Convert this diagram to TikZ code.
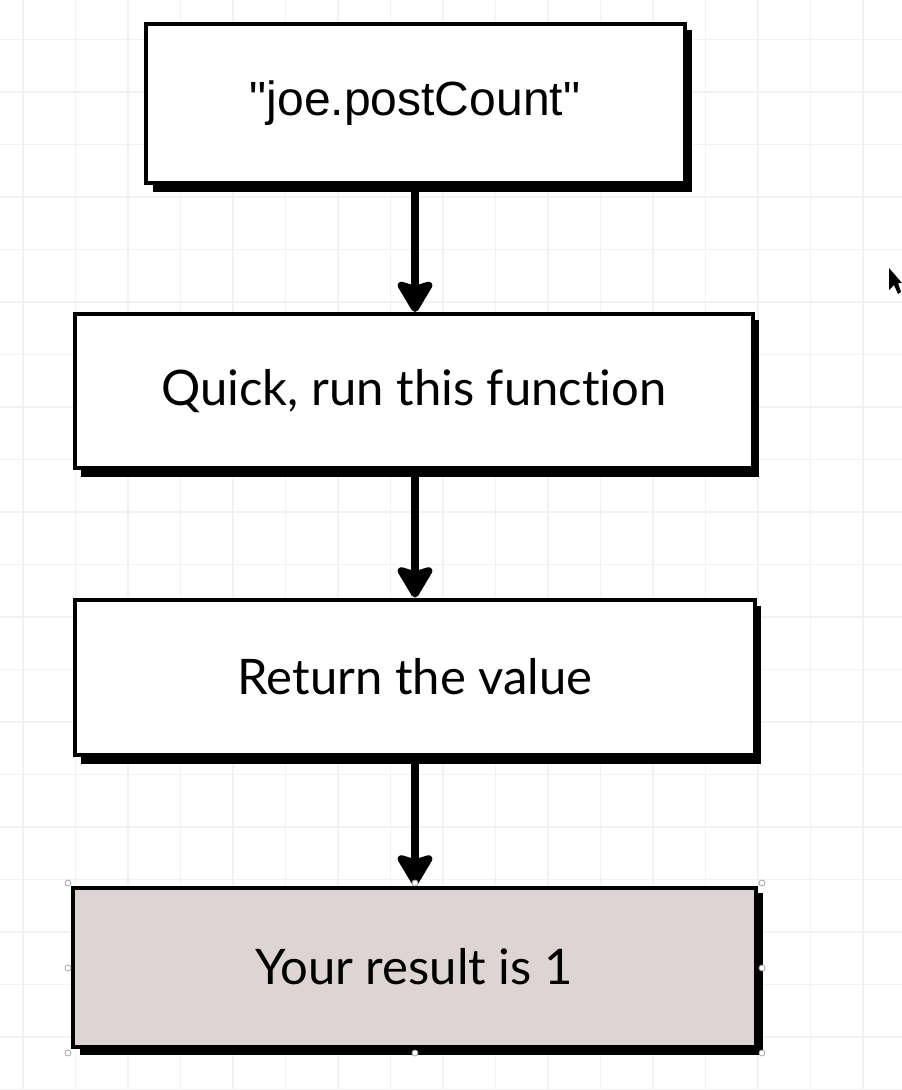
\documentclass[tikz,border=0pt]{standalone}
\usepackage{fontspec}
\setmainfont{Liberation Sans}
\newfontfamily\qfont{Liberation Sans}[Ligatures=TeXOff]
\newfontfamily\boxfont{Lato}[Ligatures=NoCommon]
\usetikzlibrary{arrows.meta}
\definecolor{gridc}{HTML}{F2F2F2}
\definecolor{resfill}{HTML}{DDD5D3}
\tikzset{
  box/.style={draw=black, line width=4pt, fill=white, minimum width=#1, inner sep=0pt, font=\boxfont\fontsize{49}{58}\selectfont},
  shad/.style={fill=black},
  conn/.style={line width=8pt, -{Stealth[length=36pt,width=42pt,inset=6pt,round]}},
  handle/.style={circle, draw=gray!70, fill=white, line width=0.8pt, inner sep=0pt, minimum size=6pt}
}
\begin{document}
\begin{tikzpicture}[x=1pt,y=-1pt]
\useasboundingbox (0,0) rectangle (902,1090);
\fill[white] (0,0) rectangle (902,1090);
% grid
\foreach \x in {23,75.5,...,902} \draw[gridc, line width=1.2pt] (\x,0) -- (\x,1090);
\foreach \y in {39.5,92,...,1090} \draw[gridc, line width=1.2pt] (0,\y) -- (902,\y);
% shadows
\fill[shad] (153,30) rectangle (692,192);
\fill[shad] (81,320) rectangle (759,477);
\fill[shad] (81,606) rectangle (761,764);
\fill[shad] (80,893) rectangle (763,1055);
% boxes
\node[box=539pt, minimum height=159pt, font=\qfont\fontsize{48}{58}\selectfont] (b1) at (415,103) {\raisebox{-2pt}{"joe.postCount"}};
\node[box=678pt, minimum height=154pt] (b2) at (414,391) {\raisebox{-3pt}{Quick, run this function}};
\node[box=680pt, minimum height=155pt] (b3) at (415,677) {\raisebox{-3pt}{Return the value}};
\node[box=683pt, minimum height=159pt, fill=resfill] (b4) at (414,967) {\raisebox{-2pt}{Your result is 1}};
% connectors
\draw[conn] (b1.south -| 415,0) -- (b2.north -| 415,0);
\draw[conn] (b2.south -| 415,0) -- (b3.north -| 415,0);
\draw[conn] (b3.south -| 415,0) -- (b4.north -| 415,0);
% selection handles
\foreach \p/\n in {(68,883)/h1,(415,883)/h2,(762,883)/h3,(68,968)/h4,(762,968)/h5,(68,1053)/h6,(415,1053)/h7,(762,1053)/h8}
  \node[handle] (\n) at \p {};
% cursor
\fill[black] (889,268) -- (889,290) -- (894,285) -- (898,294) -- (901,292) -- (898,283) -- (902,283) -- cycle;
\end{tikzpicture}
\end{document}
